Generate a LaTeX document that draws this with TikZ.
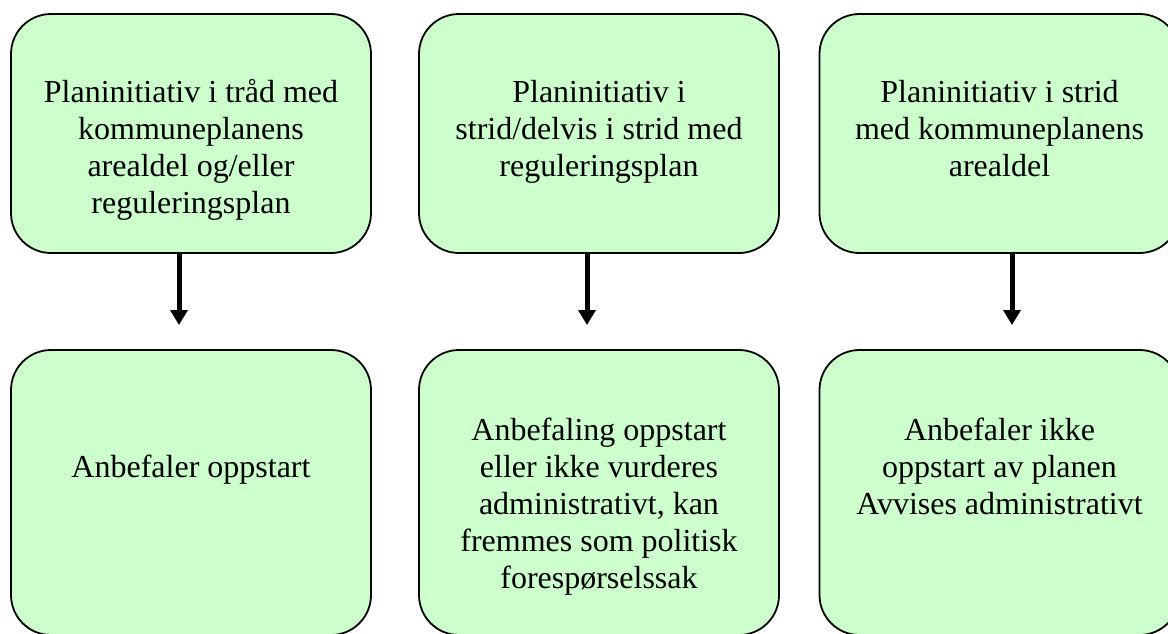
\documentclass[tikz,border=0pt]{standalone}
\usepackage{fontspec}
\setmainfont{Liberation Serif}
\usetikzlibrary{arrows.meta}
\definecolor{boxgreen}{RGB}{204,255,204}
\begin{document}
\begin{tikzpicture}[x=1pt,y=-1pt,
  box/.style={draw=black, line width=1.8pt, fill=boxgreen, rounded corners=40pt,
    minimum width=360pt, inner sep=0pt},
  toph/.style={minimum height=239pt},
  both/.style={minimum height=285pt},
  lbl/.style={anchor=north, align=center, inner sep=0pt,
    font=\fontsize{32}{37}\selectfont},
  arr/.style={line width=5pt, -{Triangle[width=17pt,length=15pt]}}]
\useasboundingbox (0,0) rectangle (1168,633);
\clip (0,0) rectangle (1168,633);
% top row
\node[box,toph] (t1) at (191,133.5) {};
\node[box,toph] (t2) at (599,133.5) {};
\node[box,toph] (t3) at (999.5,133.5) {};
% bottom row
\node[box,both] (b1) at (191,492.5) {};
\node[box,both] (b2) at (599,492.5) {};
\node[box,both] (b3) at (999.5,492.5) {};
% labels
\node[lbl] (l1) at (191,76.1) {\strut Planinitiativ i tråd med\\kommuneplanens\\arealdel og/eller\\reguleringsplan};
\node[lbl] (l2) at (599,76.1) {\strut Planinitiativ i\\strid/delvis i strid med\\reguleringsplan};
\node[lbl] (l3) at (999.5,76.1) {\strut Planinitiativ i strid\\med kommuneplanens\\arealdel};
\node[lbl] (l4) at (191,451.1) {\strut Anbefaler oppstart};
\node[lbl] (l5) at (599,414.1) {\strut Anbefaling oppstart\\eller ikke vurderes\\administrativt, kan\\fremmes som politisk\\forespørselssak};
\node[lbl] (l6) at (999.5,414.1) {\strut Anbefaler ikke\\oppstart av planen\\Avvises administrativt};
% arrows
\coordinate (a1) at (179,325);
\coordinate (a2) at (587,325);
\coordinate (a3) at (1012,325);
\draw[arr] (t1.south -| a1) -- (a1);
\draw[arr] (t2.south -| a2) -- (a2);
\draw[arr] (t3.south -| a3) -- (a3);
\end{tikzpicture}
\end{document}
